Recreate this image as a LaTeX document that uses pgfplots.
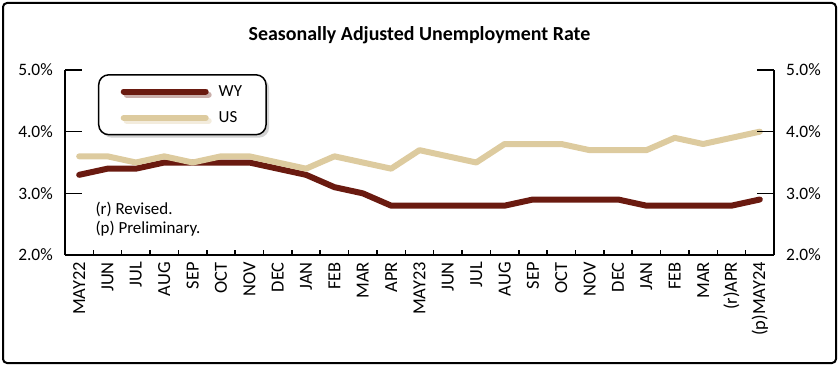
\documentclass[border=0pt]{standalone}
\usepackage{fontspec}
\setmainfont{Carlito}
\usepackage{pgfplots}
\pgfplotsset{compat=1.18}
\usetikzlibrary{shadows}
\definecolor{wy}{HTML}{6A1A10}
\definecolor{us}{HTML}{DDCB9F}
\begin{document}
\begin{tikzpicture}[x=1bp,y=1bp]
\path[use as bounding box] (0,0) rectangle (840,366);
\draw[line width=2bp, rounded corners=4bp] (3,3) rectangle (836,363);
\node[font=\fontsize{20}{24}\selectfont\bfseries, anchor=base] at (419.5,326) {Seasonally Adjusted Unemployment Rate};
\begin{axis}[
  at={(65bp,111bp)}, anchor=south west,
  scale only axis, width=709bp, height=185bp,
  xmin=-0.5, xmax=24.5, ymin=2, ymax=5,
  axis x line*=bottom, axis y line*=left,
  axis line style={line width=1.5bp, black},
  xtick={0,...,24},
  xticklabels={MAY22,JUN,JUL,AUG,SEP,OCT,NOV,DEC,JAN,FEB,MAR,APR,MAY23,JUN,JUL,AUG,SEP,OCT,NOV,DEC,JAN,FEB,MAR,(r)APR,(p)MAY24},
  xticklabel style={rotate=90, anchor=east, font=\fontsize{18.5}{21}\selectfont, inner sep=0pt, xshift=-7bp},
  major x tick style={draw=none},
  minor xtick={0.5,1.5,...,23.5},
  minor x tick style={/pgfplots/minor tick length=5bp, black, line width=1.5bp},
  ytick={2,3,4,5},
  yticklabels={2.0\%,3.0\%,4.0\%,5.0\%},
  yticklabel style={font=\fontsize{17.5}{20}\selectfont, inner sep=0pt, xshift=-12bp},
  major tick length=17bp,
  major y tick style={black, line width=1.5bp},
  tick align=inside,
  legend style={at={(0.0465,0.978)}, anchor=north west, draw=black, line width=1.5bp,
    rounded corners=10bp, drop shadow={shadow xshift=3bp, shadow yshift=-3bp, opacity=0.35},
    fill=white, inner xsep=22bp, inner ysep=8.5bp, row sep=10bp, column sep=8bp,
    font=\fontsize{17}{20}\selectfont, nodes={inner sep=2bp}},
  legend cell align=left,
  legend image code/.code={\draw[#1] (0bp,0bp) -- (82bp,0bp);},
  every axis plot/.append style={line width=6bp, line cap=round, line join=round},
]
\addplot[wy] coordinates {(0,3.3)(1,3.4)(2,3.4)(3,3.5)(4,3.5)(5,3.5)(6,3.5)(7,3.4)(8,3.3)(9,3.1)(10,3.0)(11,2.8)(12,2.8)(13,2.8)(14,2.8)(15,2.8)(16,2.9)(17,2.9)(18,2.9)(19,2.9)(20,2.8)(21,2.8)(22,2.8)(23,2.8)(24,2.9)};
\addplot[us] coordinates {(0,3.6)(1,3.6)(2,3.5)(3,3.6)(4,3.5)(5,3.6)(6,3.6)(7,3.5)(8,3.4)(9,3.6)(10,3.5)(11,3.4)(12,3.7)(13,3.6)(14,3.5)(15,3.8)(16,3.8)(17,3.8)(18,3.7)(19,3.7)(20,3.7)(21,3.9)(22,3.8)(23,3.9)(24,4.0)};
\legend{WY,US}
\end{axis}
\begin{axis}[
  at={(65bp,111bp)}, anchor=south west,
  scale only axis, width=709bp, height=185bp,
  xmin=-0.5, xmax=24.5, ymin=2, ymax=5,
  axis x line=none, axis y line*=right,
  axis line style={line width=1.5bp, black},
  ytick={2,3,4,5},
  yticklabels={2.0\%,3.0\%,4.0\%,5.0\%},
  yticklabel style={font=\fontsize{17.5}{20}\selectfont, inner sep=0pt, xshift=12bp},
  major tick length=17bp,
  major y tick style={black, line width=1.5bp},
  tick align=inside,
]
\end{axis}
\node[anchor=base west, font=\fontsize{17}{20}\selectfont] at (92,152) {(r) Revised.};
\node[anchor=base west, font=\fontsize{17}{20}\selectfont] at (92,133) {(p) Preliminary.};
\end{tikzpicture}
\end{document}
